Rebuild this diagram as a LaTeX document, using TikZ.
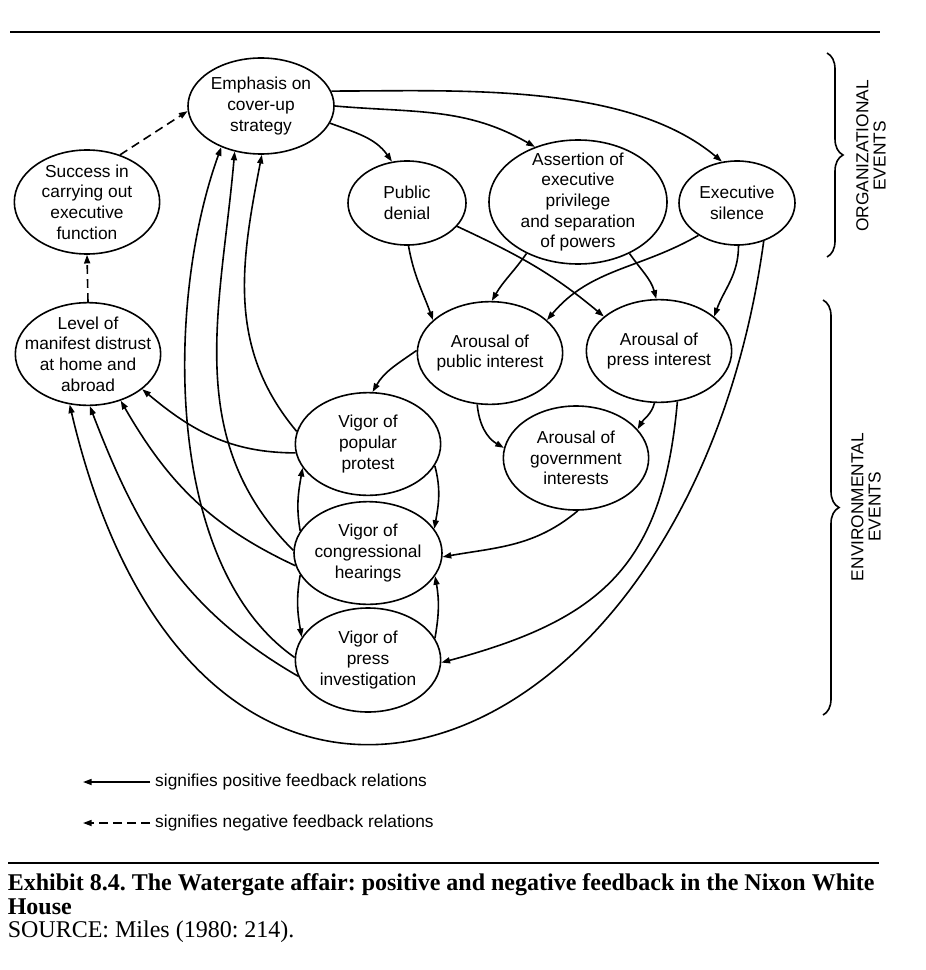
\documentclass[tikz,border=0pt]{standalone}
\usepackage{fontspec}
\setmainfont{Liberation Serif}
\setsansfont{Liberation Sans}
\usetikzlibrary{arrows.meta,
                shapes.geometric,
                decorations.pathreplacing}

\begin{document}
\frenchspacing
\begin{tikzpicture}[x=0.75pt,y=-0.75pt,
                    line width=1.2pt,
                    every node/.style={font=\sffamily\fontsize{13}{15.5}\selectfont},
                    event/.style={ellipse,draw,align=center,inner sep=-20pt,
                                  minimum width=109pt,minimum height=77pt},
                    posfb/.style={-{Triangle[length=6.5pt,width=4.5pt]}},
                    negfb/.style={posfb,dash pattern=on 6.5pt off 4pt},
                    caption/.style={anchor=base west,inner sep=0pt,
                                    font=\rmfamily\fontsize{18}{18}\selectfont}]
   \useasboundingbox (0,0) rectangle (925,970);
   \draw [line width=1.6pt] (10,32) -- (880,32);

   \node (emphasis) [event,minimum width=109.5pt,minimum height=72pt] at (261,106) {Emphasis on\\cover-up\\strategy};
   \node (success) [event,minimum height=78pt] at (87,202) {Success in\\carrying out\\executive\\function};
   \node (distrust) [event] at (88,354) {Level of\\manifest distrust\\at home and\\abroad};
   \node (denial) [event,minimum width=88.5pt,minimum height=63pt] at (407,203) {Public\\denial};
   \node (privilege) [event,minimum width=133.5pt,minimum height=93pt] at (578,202) {Assertion of\\executive\\privilege\\and separation\\of powers};
   \node (silence) [event,minimum width=87pt,minimum height=63pt] at (737,203) {Executive\\silence};
   \node (publicint) [event] at (490,353) {Arousal of\\public interest};
   \node (pressint) [event] at (659,351) {Arousal of\\press interest};
   \node (govint) [event,minimum height=78pt] at (576,458) {Arousal of\\government\\interests};
   \node (protest) [event] at (368,444) {Vigor of\\popular\\protest};
   \node (hearings) [event,minimum width=111pt] at (368,553) {Vigor of\\congressional\\hearings};
   \node (investigation) [event,minimum height=78pt] at (368,660) {Vigor of\\press\\investigation};

   \draw [posfb] (emphasis.-14) to[out=-20,in=125] (denial.110);
   \draw [posfb] (emphasis.0) to[out=-5,in=150] (privilege.128);
   \draw [posfb] (emphasis.12) to[out=0,in=140,looseness=0.8] (silence.110);
   \draw [posfb] (denial.-88) to[out=-80,in=110] (publicint.150);
   \draw [posfb] (denial.-25) to[out=-25,in=140] (pressint.148);
   \draw [posfb] (privilege.225) to[out=-125,in=60] (publicint.88);
   \draw [posfb] (privilege.-45) to[out=-55,in=105] (pressint.93);
   \draw [posfb] (silence.220) to[out=-150,in=50] (publicint.30);
   \draw [posfb] (silence.-88) to[out=-90,in=70] (pressint.32);
   \draw [posfb] (silence.-55) .. controls (690,780) and (200,960) .. (distrust.250);
   \draw [posfb] (publicint.178) to[out=215,in=60] (protest.85);
   \draw [posfb] (publicint.256) to[out=-85,in=150] (govint.172);
   \draw [posfb] (pressint.-95) to[out=-105,in=60] (govint.25);
   \draw [posfb] (pressint.-70) to[out=-95,in=15,looseness=1.2] (investigation.-2);
   \draw [posfb] (govint.-88) to[out=-140,in=10] (hearings.-3);
   \draw [posfb] (protest.-18) to[out=-75,in=80] (hearings.20);
   \draw [posfb] (investigation.18) to[out=80,in=-80] (hearings.-19);
   \draw [posfb] (hearings.162) to[out=100,in=-100] (protest.200);
   \draw [posfb] (hearings.198) to[out=-100,in=100] (investigation.161);
   \draw [posfb] (investigation.178) to[out=145,in=250,looseness=0.8] (emphasis.226);
   \draw [posfb] (hearings.178) to[out=135,in=265] (emphasis.240);
   \draw [posfb] (protest.170) to[out=130,in=259] (emphasis.271);
   \draw [posfb] (protest.187) to[out=180,in=-40] (distrust.-33);
   \draw [posfb] (hearings.190) to[out=155,in=-60] (distrust.-55);
   \draw [posfb] (investigation.193) to[out=150,in=-69] (distrust.-88);
   \draw [negfb] (distrust.north) -- (success.south);
   \draw [negfb] (success.55) -- (emphasis.184);

   \draw [decorate,decoration={brace,amplitude=12pt}] (827,53) -- (827,257);
   \draw [decorate,decoration={brace,amplitude=12pt}] (823,300) -- (823,715);
   \node (orglabel) [rotate=90,align=center,font=\sffamily\fontsize{13}{13}\selectfont] at (871,156) {ORGANIZATIONAL\\EVENTS};
   \node (envlabel) [rotate=90,align=center,font=\sffamily\fontsize{13}{13}\selectfont] at (866,507) {ENVIRONMENTAL\\EVENTS};

   \node (poslabel) [anchor=west] at (150,782) {signifies positive feedback relations};
   \coordinate (posend) at (83,782);
   \draw [posfb] (poslabel.west) -- (posend);
   \node (neglabel) [anchor=west] at (150,823) {signifies negative feedback relations};
   \coordinate (negend) at (83,823);
   \draw [negfb] (neglabel.west) -- (negend);

   \draw [line width=1.6pt] (8,863) -- (879,863);
   \node (exhibit) [caption,font=\rmfamily\bfseries\fontsize{18}{18}\selectfont] at (7,890) {Exhibit 8.4. The Watergate affair: positive and negative feedback in the Nixon White};
   \node (house) [caption,font=\rmfamily\bfseries\fontsize{18}{18}\selectfont] at (7,914) {House};
   \node (source) [caption] at (7,937) {SOURCE: Miles (1980: 214).};
\end{tikzpicture}
\end{document}
